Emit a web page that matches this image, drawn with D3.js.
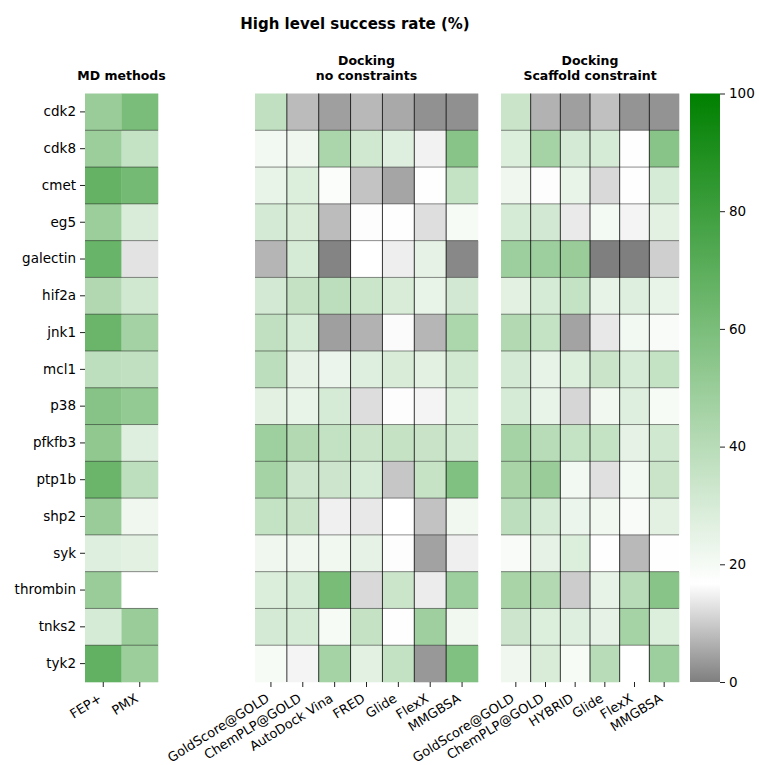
<!DOCTYPE html>
<html lang="en">
<head>
<meta charset="UTF-8">
<title>High level success rate</title>
<script src="https://d3js.org/d3.v7.min.js"></script>
<style>
  body { margin: 0; background: #fff; }
  text { font-family: "DejaVu Sans", sans-serif; fill: #000; }
</style>
</head>
<body>
<script>
// targets (rows)
const targets = ["cdk2","cdk8","cmet","eg5","galectin","hif2a","jnk1","mcl1","p38",
                 "pfkfb3","ptp1b","shp2","syk","thrombin","tnks2","tyk2"];

// MD methods
const mdMethods = ["FEP+","PMX"];
const mdValues = [
  [50,60],[49,36],[67,62],[49,29],[66,13],[42,32],[65,46],[38,37],
  [56,52],[53,27],[65,38],[50,22],[27,26],[50,17],[30,50],[68,49]
];

// Docking, no constraints
const dockMethods = ["GoldScore@GOLD","ChemPLP@GOLD","AutoDock Vina","FRED","Glide","FlexX","MMGBSA"];
const dockValues = [
  [37,7.8,4.2,7.4,5.5,2.3,2.2],
  [21,22,44,32,27,15,55.6],
  [24,28,18,8.9,4.9,17.5,36],
  [30.7,29.4,8,16.5,17.5,12.4,19.5],
  [7.1,30,0.6,17,14.5,25,1.2],
  [31,35.6,38.5,34,29.4,24,31.5],
  [37,30,4.2,6.7,16.2,7.2,43.8],
  [38.5,25,23,27,29.4,26,31.8],
  [25.7,24,30,12.2,16.4,15.3,28],
  [48.4,41.9,36.4,34.4,35.6,34.8,32],
  [45.8,33,33.5,30,9.2,35.2,58.2],
  [36,34.4,14.7,13.7,16.7,8.7,21.5],
  [22,22,21.5,25,16.5,4.6,14.6],
  [28.4,30,60.8,11.7,34,14.2,48.7],
  [30.7,30,19.5,35.6,17.5,48,21.5],
  [19.5,15.3,45.8,26,36.4,3.3,58.2]
];

// Docking, scaffold constraint
const scafMethods = ["GoldScore@GOLD","ChemPLP@GOLD","HYBRID","Glide","FlexX","MMGBSA"];
const scafValues = [
  [34.4,6.7,4.2,8.5,2.8,2.6],
  [28,45.8,30.7,30,16.6,55.6],
  [22,16.4,24,11.8,17.5,30],
  [30,31.5,14,20.5,15.3,26],
  [48.7,48.7,50,0,0,10.5],
  [26,30,36,24.5,27,24],
  [41.5,36,4.7,13.7,21,19],
  [30.7,24.5,28,34.4,30,36],
  [30,24,11.3,21.5,27,19.5],
  [45.8,39.8,36,36,25,32],
  [45,50,21,12.6,21,34.4],
  [38.5,30,23,21.5,19,25.7],
  [19,25,28,17.5,7.6,16.6],
  [45,41.5,10,24.5,39.8,55.6],
  [33.5,28,27,25,45.8,28],
  [22,29.4,19.5,39.8,16.7,48.7]
];

const cbTicks = [0,20,40,60,80,100];

const W = 759, H = 765;
const yTop = 93.5, yBottom = 682;

const color = d3.scaleLinear()
  .domain([0, 16.7, 100])
  .range(["#7f7f7f", "#ffffff", "#008000"]);

const svg = d3.select("body").append("svg")
  .attr("width", W).attr("height", H);

const y = d3.scaleBand().domain(targets).range([yTop, yBottom]);

svg.append("text")
  .attr("x", 355).attr("y", 29)
  .attr("text-anchor", "middle")
  .style("font-size", "15px").style("font-weight", "bold")
  .text("High level success rate (%)");

function panel(methods, values, x0, x1, titleLines, showY, vlines) {
  const x = d3.scaleBand().domain(methods).range([x0, x1]);
  const g = svg.append("g");

  const cells = [];
  values.forEach((row, i) => row.forEach((v, j) => cells.push({t: targets[i], m: methods[j], v})));

  g.selectAll("rect").data(cells).enter().append("rect")
    .attr("x", d => x(d.m))
    .attr("y", d => y(d.t))
    .attr("width", x.bandwidth() + 0.3)
    .attr("height", y.bandwidth() + 0.3)
    .attr("fill", d => color(d.v));

  // row separators
  g.selectAll("line.h").data(targets.slice(1)).enter().append("line")
    .attr("class", "h")
    .attr("x1", x0).attr("x2", x1)
    .attr("y1", d => y(d)).attr("y2", d => y(d))
    .attr("stroke", "#000").attr("stroke-opacity", 0.45).attr("stroke-width", 1);

  if (vlines) {
    g.selectAll("line.v").data(methods.slice(1)).enter().append("line")
      .attr("class", "v")
      .attr("x1", d => x(d)).attr("x2", d => x(d))
      .attr("y1", yTop).attr("y2", yBottom)
      .attr("stroke", "#000").attr("stroke-opacity", 0.8).attr("stroke-width", 1);
  }

  const xa = g.append("g")
    .attr("transform", `translate(0,${yBottom})`)
    .call(d3.axisBottom(x).tickSize(5).tickPadding(3));
  xa.select(".domain").remove();
  xa.selectAll(".tick line").attr("stroke", "#222");
  xa.selectAll(".tick text")
    .style("font-size", "13px")
    .attr("text-anchor", "end")
    .attr("dy", "0.9em")
    .attr("transform", "translate(-11,2) rotate(-32)");

  if (showY) {
    const ya = g.append("g")
      .attr("transform", `translate(${x0},0)`)
      .call(d3.axisLeft(y).tickSize(5).tickPadding(4));
    ya.select(".domain").remove();
    ya.selectAll(".tick line").attr("stroke", "#222");
    ya.selectAll(".tick text").style("font-size", "13.5px");
  }

  const cx = (x0 + x1) / 2;
  const t = svg.append("text")
    .attr("x", cx)
    .attr("text-anchor", "middle")
    .style("font-size", "12.5px").style("font-weight", "bold");
  titleLines.forEach((l, k) => {
    t.append("tspan").attr("x", cx)
      .attr("y", 80 - (titleLines.length - 1 - k) * 15)
      .text(l);
  });
}

panel(mdMethods, mdValues, 85, 158, ["MD methods"], true, false);
panel(dockMethods, dockValues, 255, 478, ["Docking", "no constraints"], false, true);
panel(scafMethods, scafValues, 501, 679, ["Docking", "Scaffold constraint"], false, true);

// colorbar
const cbX = 690, cbW = 30;
const defs = svg.append("defs");
const grad = defs.append("linearGradient").attr("id", "cb")
  .attr("x1", 0).attr("y1", 1).attr("x2", 0).attr("y2", 0);
color.domain().forEach(v => {
  grad.append("stop").attr("offset", v / 100).attr("stop-color", color(v));
});
svg.append("rect")
  .attr("x", cbX).attr("y", yTop)
  .attr("width", cbW).attr("height", yBottom - yTop)
  .attr("fill", "url(#cb)");

const cbScale = d3.scaleLinear().domain([0, 100]).range([yBottom, yTop]);
const cba = svg.append("g")
  .attr("transform", `translate(${cbX + cbW},0)`)
  .call(d3.axisRight(cbScale).tickValues(cbTicks).tickSize(5).tickPadding(4));
cba.select(".domain").remove();
cba.selectAll(".tick line").attr("stroke", "#222");
cba.selectAll(".tick text").style("font-size", "13.5px");
</script>
</body>
</html>
